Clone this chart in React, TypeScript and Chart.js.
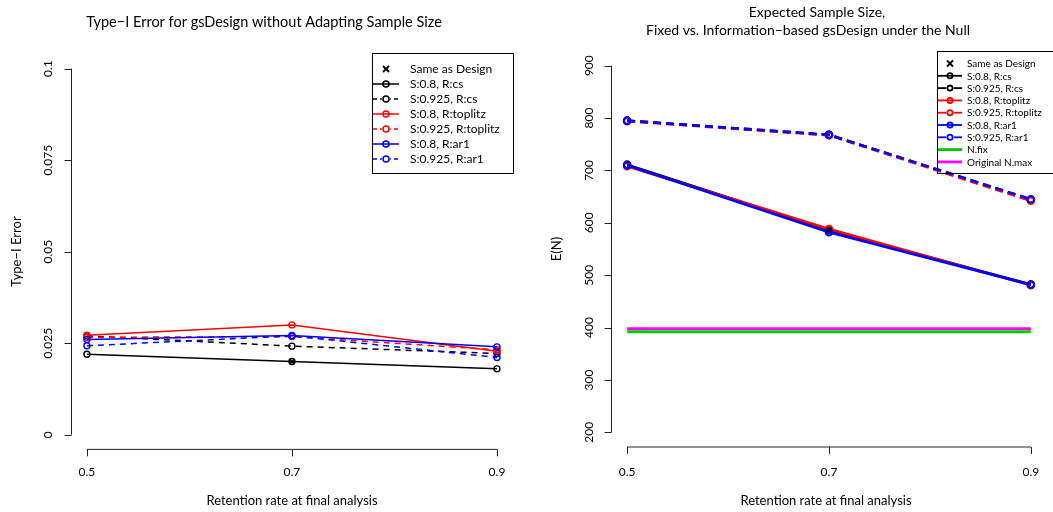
import { useEffect, useRef } from "react";
import { Chart, registerables } from "chart.js";

Chart.register(...registerables);

// ---------- data ----------
const retention = [0.5, 0.7, 0.9];

const seriesNames = [
  "S:0.8, R:cs",
  "S:0.925, R:cs",
  "S:0.8, R:toplitz",
  "S:0.925, R:toplitz",
  "S:0.8, R:ar1",
  "S:0.925, R:ar1",
];
const seriesColors = ["#000000", "#000000", "#FF0000", "#FF0000", "#0000FF", "#0000FF"];
const seriesDashed = [false, true, false, true, false, true];

// Type-I error by retention rate
const errCsS08 = [0.022, 0.02, 0.018];
const errCsS0925 = [0.027, 0.0242, 0.0222];
const errToplitzS08 = [0.0272, 0.03, 0.0228];
const errToplitzS0925 = [0.0266, 0.0268, 0.0232];
const errAr1S08 = [0.026, 0.0271, 0.024];
const errAr1S0925 = [0.0243, 0.027, 0.0211];

// Expected sample size by retention rate
const enCsS08 = [711, 586, 482];
const enCsS0925 = [795, 768, 644];
const enToplitzS08 = [708, 588, 481];
const enToplitzS0925 = [794, 767, 642];
const enAr1S08 = [710, 582, 482];
const enAr1S0925 = [795, 768, 645];

const nFix = 392;
const nMaxOriginal = 398;

// design scenario marker
const designRetention = 0.7;
const designError = 0.02;
const designEN = 586;

const xTicks = [0.5, 0.7, 0.9];
const xTickLabels = ["0.5", "0.7", "0.9"];
const errorTicks = [0, 0.025, 0.05, 0.075, 0.1];
const errorTickLabels = ["0", "0.025", "0.05", "0.075", "0.1"];
const enTicks = [200, 300, 400, 500, 600, 700, 800, 900];
const enTickLabels = ["200", "300", "400", "500", "600", "700", "800", "900"];

const FONT = "Lato, 'Open Sans', sans-serif";

type LegendRow = {
  label: string;
  kind: "x" | "series" | "line";
  color: string;
  dashed?: boolean;
  gap?: boolean;
  lw?: number;
};

type FrameCfg = {
  titles: { text: string; x: number; y: number }[];
  titleSize: number;
  xTitle: string;
  xTitleX: number;
  yTitle: string;
  yTicks: number[];
  yTickLabels: string[];
  legend: {
    box: [number, number, number, number];
    rowY0: number;
    rowStep: number;
    lineX0: number;
    lineX1: number;
    markX: number;
    textX: number;
    fontSize: number;
    lw: number;
    r: number;
    dash: number[];
    rows: LegendRow[];
  };
};

function framePlugin(cfg: FrameCfg) {
  return {
    id: "rframe",
    afterDraw(chart: any) {
      const ctx: CanvasRenderingContext2D = chart.ctx;
      const xs = chart.scales.x;
      const ys = chart.scales.y;
      const a = chart.chartArea;
      ctx.save();
      ctx.strokeStyle = "#222";
      ctx.fillStyle = "#000";
      ctx.lineWidth = 1;

      // x axis
      const yb = a.bottom;
      const xa = xs.getPixelForValue(xTicks[0]);
      const xb = xs.getPixelForValue(xTicks[xTicks.length - 1]);
      ctx.beginPath();
      ctx.moveTo(xa, yb);
      ctx.lineTo(xb, yb);
      xTicks.forEach((t) => {
        const px = Math.round(xs.getPixelForValue(t)) + 0.5;
        ctx.moveTo(px, yb);
        ctx.lineTo(px, yb + 7);
      });
      ctx.stroke();
      ctx.font = `12px ${FONT}`;
      ctx.textAlign = "center";
      ctx.textBaseline = "middle";
      xTicks.forEach((t, i) => {
        ctx.fillText(xTickLabels[i], xs.getPixelForValue(t), 472);
      });
      ctx.font = `13px ${FONT}`;
      ctx.fillText(cfg.xTitle, cfg.xTitleX, 501);

      // y axis
      const xl = Math.round(a.left) + 0.5;
      ctx.beginPath();
      ctx.moveTo(xl, ys.getPixelForValue(cfg.yTicks[0]));
      ctx.lineTo(xl, ys.getPixelForValue(cfg.yTicks[cfg.yTicks.length - 1]));
      cfg.yTicks.forEach((t) => {
        const py = Math.round(ys.getPixelForValue(t)) + 0.5;
        ctx.moveTo(xl, py);
        ctx.lineTo(xl - 7, py);
      });
      ctx.stroke();
      ctx.font = `12px ${FONT}`;
      cfg.yTicks.forEach((t, i) => {
        ctx.save();
        ctx.translate(a.left - 22, ys.getPixelForValue(t));
        ctx.rotate(-Math.PI / 2);
        ctx.fillText(cfg.yTickLabels[i], 0, 0);
        ctx.restore();
      });
      ctx.font = `13px ${FONT}`;
      ctx.save();
      ctx.translate(
        a.left - 54,
        (ys.getPixelForValue(cfg.yTicks[0]) + ys.getPixelForValue(cfg.yTicks[cfg.yTicks.length - 1])) / 2
      );
      ctx.rotate(-Math.PI / 2);
      ctx.fillText(cfg.yTitle, 0, 0);
      ctx.restore();

      // titles
      ctx.font = `${cfg.titleSize}px ${FONT}`;
      cfg.titles.forEach((t) => ctx.fillText(t.text, t.x, t.y));

      // legend
      const L = cfg.legend;
      const [bx0, by0, bx1, by1] = L.box;
      ctx.strokeStyle = "#000";
      ctx.lineWidth = 1;
      ctx.strokeRect(bx0 + 0.5, by0 + 0.5, bx1 - bx0 - 1, by1 - by0);
      ctx.font = `${L.fontSize}px ${FONT}`;
      ctx.textAlign = "left";
      L.rows.forEach((row, i) => {
        const y = L.rowY0 + i * L.rowStep;
        if (row.kind === "x") {
          const s = 3;
          ctx.strokeStyle = row.color;
          ctx.lineWidth = 1.8;
          ctx.beginPath();
          ctx.moveTo(L.markX - s, y - s);
          ctx.lineTo(L.markX + s, y + s);
          ctx.moveTo(L.markX + s, y - s);
          ctx.lineTo(L.markX - s, y + s);
          ctx.stroke();
        } else {
          ctx.strokeStyle = row.color;
          ctx.lineWidth = row.lw ?? L.lw;
          ctx.setLineDash(row.dashed ? L.dash : []);
          ctx.beginPath();
          ctx.moveTo(L.lineX0, y);
          ctx.lineTo(L.lineX1, y);
          ctx.stroke();
          ctx.setLineDash([]);
          if (row.kind === "series") {
            ctx.lineWidth = L.lw;
            if (row.dashed || row.gap) {
              ctx.fillStyle = "#fff";
              ctx.beginPath();
              ctx.arc(L.markX, y, L.r + 1.2, 0, Math.PI * 2);
              ctx.fill();
            }
            ctx.beginPath();
            ctx.arc(L.markX, y, L.r, 0, Math.PI * 2);
            ctx.stroke();
          }
        }
        ctx.fillStyle = "#000";
        ctx.fillText(row.label, L.textX, y + 0.5);
      });
      ctx.restore();
    },
  };
}

// later series are drawn on top of earlier ones (lower order = drawn later)
function seriesDatasets(values: number[][], lw: number, r: number, bw: number, dash: number[]) {
  return values.map((vals, i) => ({
    label: seriesNames[i],
    data: retention.map((x, j) => ({ x, y: vals[j] })),
    order: 50 - i,
    borderColor: seriesColors[i],
    borderWidth: lw,
    borderDash: seriesDashed[i] ? dash : [],
    pointStyle: "circle",
    pointRadius: r,
    pointBorderWidth: bw,
    pointBorderColor: seriesColors[i],
    pointBackgroundColor: "rgba(0,0,0,0)",
    tension: 0,
    fill: false,
  }));
}

function designDataset(y: number, r: number) {
  return {
    label: "Same as Design",
    data: [{ x: designRetention, y }],
    order: 0,
    showLine: false,
    pointStyle: "crossRot",
    pointRadius: r,
    pointBorderWidth: 1.6,
    pointBorderColor: "#000",
    pointBackgroundColor: "#000",
  };
}

function hLineDataset(label: string, y: number, color: string, order: number) {
  return {
    label,
    data: [
      { x: retention[0], y },
      { x: retention[retention.length - 1], y },
    ],
    order,
    borderColor: color,
    borderWidth: 2.8,
    pointRadius: 0,
    tension: 0,
    fill: false,
  };
}

function ErrorPanel() {
  const ref = useRef<HTMLCanvasElement | null>(null);
  useEffect(() => {
    const legendRows: LegendRow[] = [
      { label: "Same as Design", kind: "x", color: "#000" },
      ...seriesNames.map((n, i) => ({
        label: n,
        kind: "series" as const,
        color: seriesColors[i],
        dashed: seriesDashed[i],
      })),
    ];
    const chart = new Chart(ref.current as HTMLCanvasElement, {
      type: "line",
      data: {
        datasets: [
          ...seriesDatasets(
            [errCsS08, errCsS0925, errToplitzS08, errToplitzS0925, errAr1S08, errAr1S0925],
            1.5,
            3,
            1.4,
            [6, 5]
          ),
          designDataset(designError, 3.5),
        ] as any,
      },
      options: {
        responsive: false,
        animation: false,
        events: [],
        layout: { padding: { left: 70.5, right: 13.6, top: 53.9, bottom: 62.6 } },
        plugins: { legend: { display: false }, title: { display: false }, tooltip: { enabled: false } },
        scales: {
          x: { type: "linear", display: false, min: 0.484, max: 0.916 },
          y: { type: "linear", display: false, min: -0.004, max: 0.104 },
        },
      },
      plugins: [
        framePlugin({
          titles: [{ text: "Type\u2212I Error for gsDesign without Adapting Sample Size", x: 264, y: 22 }],
          titleSize: 14.5,
          xTitle: "Retention rate at final analysis",
          xTitleX: 292,
          yTitle: "Type\u2212I Error",
          yTicks: errorTicks,
          yTickLabels: errorTickLabels,
          legend: {
            box: [372, 53, 514, 173],
            rowY0: 69,
            rowStep: 15,
            lineX0: 373,
            lineX1: 399,
            markX: 386,
            textX: 410,
            fontSize: 12,
            lw: 1.5,
            r: 3,
            dash: [4, 3],
            rows: legendRows,
          },
        }) as any,
      ],
    });
    return () => chart.destroy();
  }, []);
  return <canvas ref={ref} width={527} height={512} style={{ position: "absolute", left: 0, top: 0 }} />;
}

function SampleSizePanel() {
  const ref = useRef<HTMLCanvasElement | null>(null);
  useEffect(() => {
    const legendRows: LegendRow[] = [
      { label: "Same as Design", kind: "x", color: "#000" },
      ...seriesNames.map((n, i) => ({
        label: n,
        kind: "series" as const,
        color: seriesColors[i],
        dashed: false,
        gap: seriesDashed[i],
      })),
      { label: "N.fix", kind: "line", color: "#00C800", lw: 2.8 },
      { label: "Original N.max", kind: "line", color: "#FF00FF", lw: 2.8 },
    ];
    const chart = new Chart(ref.current as HTMLCanvasElement, {
      type: "line",
      data: {
        datasets: [
          ...seriesDatasets(
            [enCsS08, enCsS0925, enToplitzS08, enToplitzS0925, enAr1S08, enAr1S0925],
            2.6,
            3.3,
            2,
            [8, 5]
          ),
          hLineDataset("N.fix", nFix, "#00C800", 60),
          hLineDataset("Original N.max", nMaxOriginal, "#FF00FF", 59),
          designDataset(designEN, 3.5),
        ] as any,
      },
      options: {
        responsive: false,
        animation: false,
        events: [],
        layout: { padding: { left: 84, right: 0, top: 51, bottom: 65 } },
        plugins: { legend: { display: false }, title: { display: false }, tooltip: { enabled: false } },
        scales: {
          x: { type: "linear", display: false, min: 0.484, max: 0.916 },
          y: { type: "linear", display: false, min: 172, max: 928 },
        },
      },
      plugins: [
        framePlugin({
          titles: [
            { text: "Expected Sample Size,", x: 290, y: 12 },
            { text: "Fixed vs. Information\u2212based gsDesign under the Null", x: 281, y: 30 },
          ],
          titleSize: 14,
          xTitle: "Retention rate at final analysis",
          xTitleX: 299,
          yTitle: "E(N)",
          yTicks: enTicks,
          yTickLabels: enTickLabels,
          legend: {
            box: [410, 51, 527, 173],
            rowY0: 63.5,
            rowStep: 12.3,
            lineX0: 411,
            lineX1: 435,
            markX: 423,
            textX: 440,
            fontSize: 10,
            lw: 1.8,
            r: 2.6,
            dash: [4, 3],
            rows: legendRows,
          },
        }) as any,
      ],
    });
    return () => chart.destroy();
  }, []);
  return <canvas ref={ref} width={526} height={512} style={{ position: "absolute", left: 527, top: 0 }} />;
}

export default function App() {
  return (
    <div
      style={{
        position: "fixed",
        left: 0,
        top: 0,
        width: 1053,
        height: 512,
        background: "#fff",
        overflow: "hidden",
      }}
    >
      <ErrorPanel />
      <SampleSizePanel />
    </div>
  );
}
